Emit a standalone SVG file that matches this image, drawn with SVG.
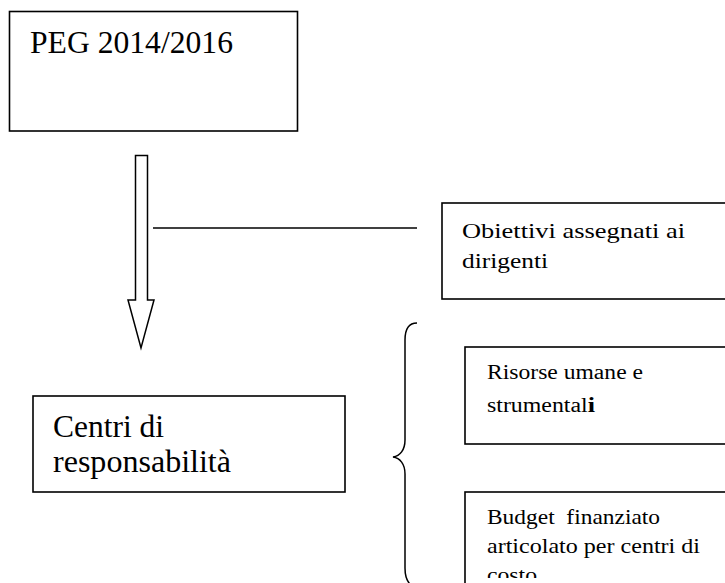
<svg xmlns="http://www.w3.org/2000/svg" width="725" height="583" viewBox="0 0 725 583">
<style>
.box{fill:#fff;stroke:#000;stroke-width:1.6}
.t{font-family:"Liberation Serif","Times New Roman",serif;fill:#000}
.ln{fill:none;stroke:#000;stroke-width:1.5}
</style>
<defs>
<clipPath id="clipBudget"><rect x="465" y="492" width="260" height="86"/></clipPath>
</defs>
<rect width="725" height="583" fill="#fff"/>
<g id="connectors">
<polygon class="ln" fill="#fff" points="135.5,155.5 147.5,155.5 147.5,300 154,300 141,348 128,300 135.5,300"/>
<line class="ln" x1="153" y1="228" x2="417" y2="228"/>
<path class="ln" d="M417,323 C409,323 405,329 405,340 L405,440 C405,450 400,456 393,457 C400,458 405,464 405,474 L405,568 C405,578 408,583 412,586"/>
</g>
<g id="node-peg">
<rect class="box" x="9.5" y="11.5" width="288" height="119.5"/>
<text class="t" x="30" y="53" font-size="32" textLength="203" lengthAdjust="spacingAndGlyphs">PEG 2014/2016</text>
</g>
<g id="node-obiettivi">
<rect class="box" x="442" y="203" width="300" height="96"/>
<text class="t" x="462" y="238" font-size="22" textLength="223" lengthAdjust="spacingAndGlyphs">Obiettivi assegnati ai</text>
<text class="t" x="462" y="268" font-size="22" textLength="86" lengthAdjust="spacingAndGlyphs">dirigenti</text>
</g>
<g id="node-centri">
<rect class="box" x="33" y="396" width="312" height="96"/>
<text class="t" x="53" y="437" font-size="32" textLength="111" lengthAdjust="spacingAndGlyphs">Centri di</text>
<text class="t" x="53" y="472" font-size="32" textLength="178" lengthAdjust="spacingAndGlyphs">responsabilità</text>
</g>
<g id="node-risorse">
<rect class="box" x="465" y="347" width="280" height="97"/>
<text class="t" x="487" y="379" font-size="20" textLength="156" lengthAdjust="spacingAndGlyphs">Risorse umane e</text>
<text class="t" x="487" y="412" font-size="20" textLength="108" lengthAdjust="spacingAndGlyphs">strumental<tspan font-weight="bold" font-size="22">i</tspan></text>
</g>
<g id="node-budget">
<rect class="box" x="465" y="492" width="280" height="120"/>
<g clip-path="url(#clipBudget)">
<text class="t" x="487" y="524" font-size="21" xml:space="preserve" textLength="173" lengthAdjust="spacingAndGlyphs">Budget  finanziato</text>
<text class="t" x="487" y="553" font-size="21" textLength="213" lengthAdjust="spacingAndGlyphs">articolato per centri di</text>
<text class="t" x="487" y="582" font-size="21" textLength="50" lengthAdjust="spacingAndGlyphs">costo</text>
</g>
</g>
</svg>
